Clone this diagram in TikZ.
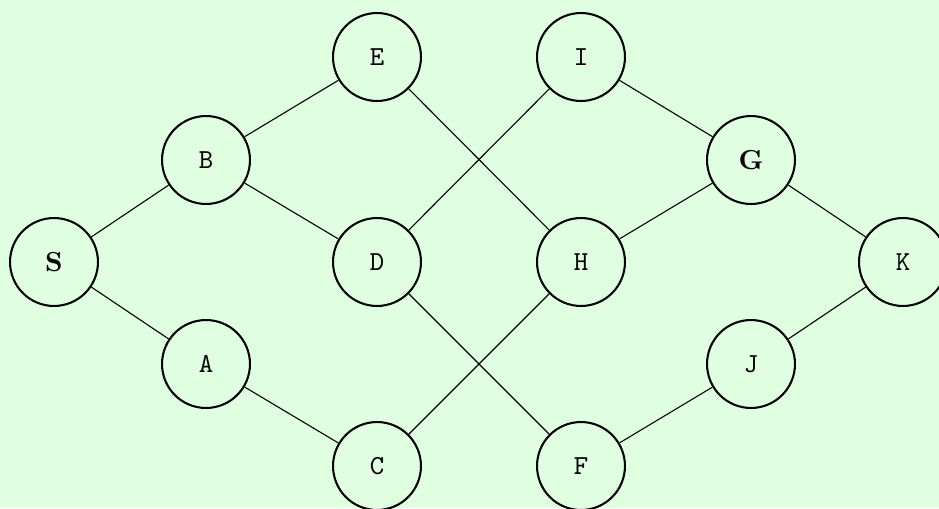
\documentclass[tikz,border=0pt]{standalone}
\definecolor{bg}{RGB}{224,255,224}
\begin{document}
\begin{tikzpicture}[x=0.01278cm,y=-0.01278cm,
  vtx/.style={circle,draw,line width=0.75pt,minimum size=32pt,inner sep=0pt,font=\ttfamily},
  bvtx/.style={vtx,font=\bfseries},
  edge/.style={line width=0.4pt}]
\fill[bg] (0,0) rectangle (939,508);
\useasboundingbox (0,0) rectangle (939,508);
\node[bvtx] (S) at (54,262) {S};
\node[vtx] (B) at (206,160) {B};
\node[vtx] (A) at (206,364) {A};
\node[vtx] (E) at (377,57) {E};
\node[vtx] (D) at (377,262) {D};
\node[vtx] (C) at (377,466) {C};
\node[vtx] (I) at (581,57) {I};
\node[vtx] (H) at (581,262) {H};
\node[vtx] (F) at (581,466) {F};
\node[bvtx] (G) at (751,160) {G};
\node[vtx] (J) at (751,364) {J};
\node[vtx] (K) at (903,262) {K};
\draw[edge] (S) -- (B);
\draw[edge] (S) -- (A);
\draw[edge] (B) -- (E);
\draw[edge] (B) -- (D);
\draw[edge] (A) -- (C);
\draw[edge] (E) -- (H);
\draw[edge] (D) -- (I);
\draw[edge] (D) -- (F);
\draw[edge] (C) -- (H);
\draw[edge] (I) -- (G);
\draw[edge] (H) -- (G);
\draw[edge] (F) -- (J);
\draw[edge] (G) -- (K);
\draw[edge] (J) -- (K);
\end{tikzpicture}
\end{document}
